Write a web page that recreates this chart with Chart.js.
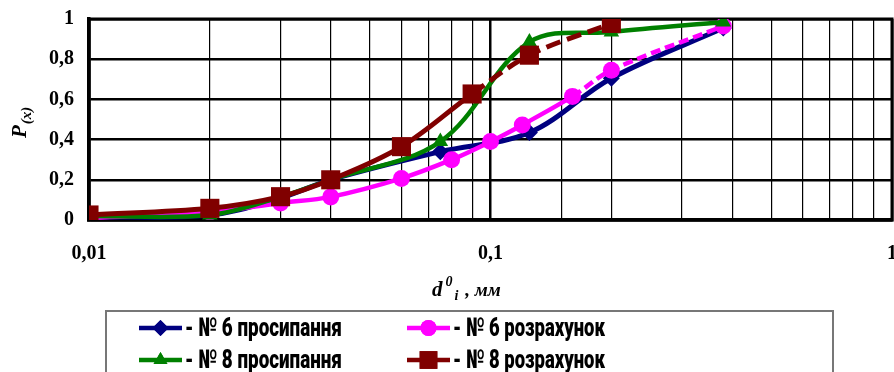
<!DOCTYPE html>
<html>
<head>
<meta charset="utf-8">
<script src="https://cdn.jsdelivr.net/npm/chart.js@4/dist/chart.umd.min.js"></script>
<style>
  html, body { margin: 0; padding: 0; background: #fff; }
  #wrap { width: 894px; height: 372px; position: relative; }
</style>
</head>
<body>
<div id="wrap"><canvas id="c" width="894" height="372"></canvas></div>
<script>
// Particle size d (mm) and cumulative share P(x)
const sieve6X = [0.01, 0.02, 0.03, 0.04, 0.075, 0.125, 0.2, 0.38];
const sieve6Y = [0.015, 0.025, 0.11, 0.2, 0.34, 0.435, 0.705, 0.955];

const calc6X = [0.01, 0.02, 0.03, 0.04, 0.06, 0.08, 0.1, 0.12, 0.16, 0.2, 0.38];
const calc6Y = [0.01, 0.04, 0.085, 0.115, 0.207, 0.30, 0.39, 0.473, 0.615, 0.745, 0.965];

const sieve8X = [0.01, 0.02, 0.03, 0.04, 0.075, 0.125, 0.2, 0.38];
const sieve8Y = [0.02, 0.025, 0.115, 0.2, 0.39, 0.885, 0.935, 0.985];

const calc8X = [0.01, 0.02, 0.03, 0.04, 0.06, 0.09, 0.125, 0.2];
const calc8Y = [0.025, 0.058, 0.116, 0.2, 0.365, 0.627, 0.82, 0.978];

const seriesNames = ['- № 6 просипання', '- № 6 розрахунок', '- № 8 просипання', '- № 8 розрахунок'];
const xTickLabels = { '-2': '0,01', '-1': '0,1', '0': '1' };

const pts = (xs, ys) => xs.map((x, i) => ({ x: x, y: ys[i] }));
const dashFrom = (start, pattern) => (ctx) => (ctx.p0DataIndex >= start ? pattern : undefined);

const NAVY = '#000080', MAGENTA = '#ff00ff', GREEN = '#008000', MAROON = '#800000';

// Dataset index 0 is painted last, so the squares come first here.
const datasets = [
  { label: seriesNames[3], data: pts(calc8X, calc8Y), borderColor: MAROON, backgroundColor: MAROON,
    pointStyle: 'rect', pointRadius: 13.5, borderWidth: 5, pointBorderWidth: 0,
    segment: { borderDash: dashFrom(5, [15, 7]) } },
  { label: seriesNames[2], data: pts(sieve8X, sieve8Y), borderColor: GREEN, backgroundColor: GREEN,
    pointStyle: 'triangle', pointRadius: 9, borderWidth: 4.5, pointBorderWidth: 0 },
  { label: seriesNames[1], data: pts(calc6X, calc6Y), borderColor: MAGENTA, backgroundColor: MAGENTA,
    pointStyle: 'circle', pointRadius: 8.5, borderWidth: 4.5, pointBorderWidth: 0,
    segment: { borderDash: dashFrom(8, [10, 5]) } },
  { label: seriesNames[0], data: pts(sieve6X, sieve6Y), borderColor: NAVY, backgroundColor: NAVY,
    pointStyle: 'rectRot', pointRadius: 8.5, borderWidth: 5, pointBorderWidth: 0 }
];

const isDecade = (v) => Math.abs(Math.log10(v) - Math.round(Math.log10(v))) < 1e-6;

// Frame around the plotting area
const frame = {
  id: 'frame',
  beforeDatasetsDraw(chart) {
    const { ctx, chartArea: a } = chart;
    ctx.save();
    ctx.strokeStyle = '#000';
    ctx.lineWidth = 3;
    ctx.strokeRect(a.left, a.top, a.right - a.left, a.bottom - a.top);
    ctx.restore();
  }
};

// Axis titles with sub/superscripts
const titles = {
  id: 'titles',
  afterDraw(chart) {
    const ctx = chart.ctx;
    ctx.save();
    ctx.fillStyle = '#000';
    ctx.textBaseline = 'alphabetic';
    // y title: P(x), rotated
    ctx.translate(26, 138);
    ctx.rotate(-Math.PI / 2);
    ctx.font = 'italic bold 21px "Liberation Serif", serif';
    ctx.fillText('P', 0, 0);
    let w = ctx.measureText('P').width;
    ctx.font = 'italic bold 15px "Liberation Serif", serif';
    ctx.fillText('(x)', w + 1, 5);
    ctx.restore();

    ctx.save();
    ctx.fillStyle = '#000';
    ctx.textBaseline = 'alphabetic';
    let x = 432, y = 296;
    ctx.font = 'italic bold 21px "Liberation Serif", serif';
    ctx.fillText('d', x, y);
    x += ctx.measureText('d').width + 3;
    ctx.font = 'italic bold 14px "Liberation Serif", serif';
    ctx.fillText('0', x, y - 10);
    x += ctx.measureText('0').width + 2;
    ctx.fillText('i', x, y + 4);
    x += ctx.measureText('i').width + 2;
    ctx.font = 'italic bold 19px "Liberation Serif", serif';
    ctx.fillText(' , мм', x, y);
    ctx.restore();
  }
};

// Two-column boxed legend under the plot
const boxLegend = {
  id: 'boxLegend',
  afterDraw(chart) {
    const ctx = chart.ctx;
    ctx.save();
    ctx.fillStyle = '#fff';
    ctx.strokeStyle = '#777';
    ctx.lineWidth = 2;
    ctx.fillRect(106, 311, 727, 70);
    ctx.strokeRect(106, 311, 727, 70);

    const order = [3, 2, 1, 0];            // legend slot -> dataset index
    const cols = [{ l0: 139, l1: 182, tx: 185, tw: 157 }, { l0: 407, l1: 450, tx: 453, tw: 152 }];
    const rows = [328, 360];
    order.forEach((di, slot) => {
      const ds = chart.data.datasets[di];
      const c = cols[slot % 2], y = rows[Math.floor(slot / 2)];
      ctx.save();
      ctx.strokeStyle = ds.borderColor;
      ctx.lineWidth = 4.5;
      ctx.beginPath();
      ctx.moveTo(c.l0, y);
      ctx.lineTo(c.l1, y);
      ctx.stroke();
      ctx.fillStyle = ds.backgroundColor;
      const mx = (c.l0 + c.l1) / 2;
      const r = ds.pointStyle === 'rect' ? 12.5 : 8;
      Chart.helpers.drawPoint(ctx, { pointStyle: ds.pointStyle, radius: r, rotation: 0, borderWidth: 0 }, mx, y);
      ctx.fill();
      ctx.restore();

      ctx.save();
      ctx.fillStyle = '#000';
      ctx.textBaseline = 'middle';
      ctx.font = '900 26px Roboto, sans-serif';
      const mw = ctx.measureText(ds.label).width;
      ctx.translate(c.tx, y + 1);
      ctx.scale(c.tw / mw, 1);
      ctx.fillText(ds.label, 0, 0);
      ctx.restore();
    });
    ctx.restore();
  }
};

new Chart(document.getElementById('c'), {
  type: 'line',
  data: { datasets: datasets },
  options: {
    responsive: false,
    animation: false,
    events: [],
    layout: { autoPadding: false, padding: { left: 0, right: 2, top: 19, bottom: 0 } },
    elements: { line: { tension: 0.35, fill: false } },
    plugins: { legend: { display: false }, tooltip: { enabled: false } },
    scales: {
      x: {
        type: 'logarithmic',
        min: 0.01,
        max: 1,
        afterFit: (s) => { s.height = 152; s.paddingLeft = 0; s.paddingRight = 0; },
        border: { color: '#000', width: 3.5 },
        grid: {
          color: '#000',
          drawTicks: false,
          lineWidth: (c) => (c.tick && isDecade(c.tick.value) ? 2.5 : 1.2)
        },
        ticks: {
          autoSkip: false,
          maxRotation: 0,
          padding: 22,
          color: '#000',
          font: { family: '"Liberation Serif", serif', weight: 'bold', size: 20 },
          callback: (v) => (isDecade(v) ? xTickLabels[String(Math.round(Math.log10(v)))] : '')
        }
      },
      y: {
        min: 0,
        max: 1,
        afterFit: (s) => { s.width = 89; s.paddingTop = 0; s.paddingBottom = 0; },
        border: { color: '#000', width: 3.5 },
        grid: {
          color: '#000',
          drawTicks: false,
          lineWidth: (c) => (c.tick && Math.round(c.tick.value * 10) % 2 === 0 ? 2.5 : 1.5)
        },
        ticks: {
          stepSize: 0.1,
          padding: 15,
          color: '#000',
          font: { family: '"Liberation Serif", serif', weight: 'bold', size: 20 },
          callback: (v) => (Math.round(v * 10) % 2 === 0 ? String(Math.round(v * 10) / 10).replace('.', ',') : '')
        }
      }
    }
  },
  plugins: [frame, titles, boxLegend]
});
</script>
</body>
</html>
